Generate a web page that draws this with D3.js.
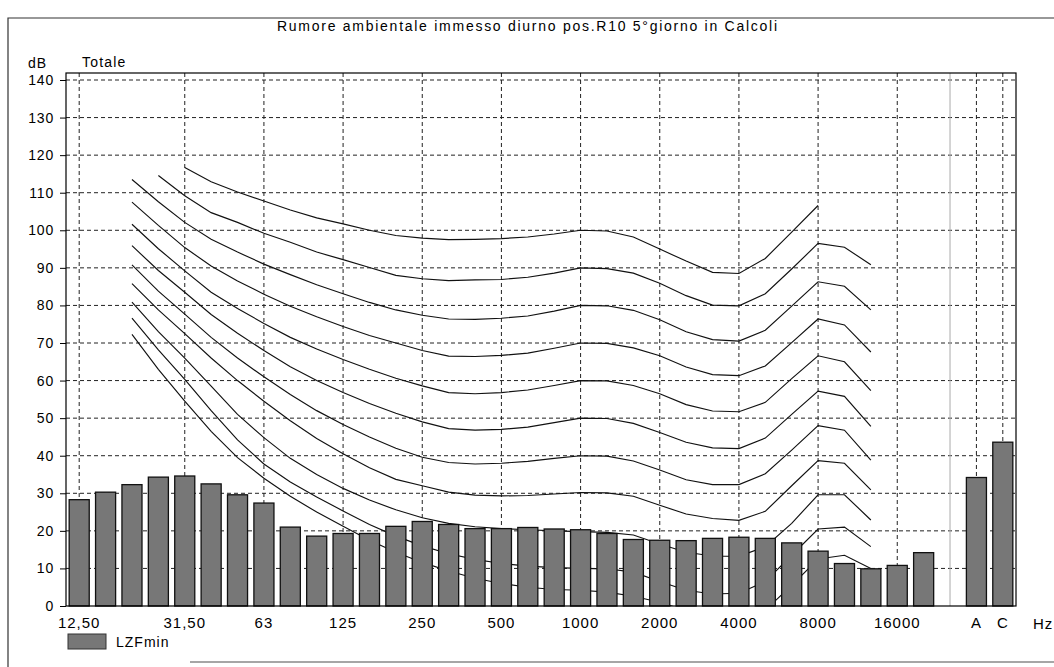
<!DOCTYPE html>
<html><head><meta charset="utf-8">
<script src="https://cdn.jsdelivr.net/npm/d3@7"></script>
<style>html,body{margin:0;padding:0;background:#fff;} svg{display:block;font-family:"Liberation Sans",Arial,sans-serif;}</style>
</head><body><svg id="c" width="1054" height="667"></svg>
<script>
// ---------- data ----------
const bands = ["12.5","16","20","25","31.5","40","50","63","80","100","125","160","200","250","315","400","500","630","800","1000","1250","1600","2000","2500","3150","4000","5000","6300","8000","10000","12500","16000","20000"];
const totals = ["A","C"];
const lzfMin = [28.3,30.3,32.3,34.3,34.6,32.5,29.6,27.4,21.0,18.6,19.3,19.3,21.2,22.5,21.7,20.6,20.6,20.9,20.5,20.3,19.3,17.7,17.5,17.4,18.0,18.3,18.0,16.8,14.6,11.3,9.9,10.8,14.2];
const lzfTotals = [34.2,43.6];

const tickBands = ["12.5","31.5","63","125","250","500","1000","2000","4000","8000","16000","A","C"];
const tickText = ["12,50","31,50","63","125","250","500","1000","2000","4000","8000","16000","A","C"];
const yTicks = [0,10,20,30,40,50,60,70,80,90,100,110,120,130,140];

// equal-loudness contours (20 Hz ... 12500 Hz)
const contourBands = ["20","25","31.5","40","50","63","80","100","125","160","200","250","315","400","500","630","800","1000","1250","1600","2000","2500","3150","4000","5000","6300","8000","10000","12500"];
const phon100 = [null,null,116.7,112.9,110.2,107.8,105.4,103.3,101.7,100.0,98.6,97.9,97.5,97.6,97.8,98.2,99.0,100.0,99.8,98.2,95.0,91.8,88.8,88.5,92.5,99.5,106.6,null,null];
const phon90 = [null,114.6,109.2,104.7,102.1,99.2,96.8,94.2,92.2,90.1,88.0,87.1,86.6,86.8,86.9,87.5,88.6,90.0,89.8,88.6,85.9,82.6,80.1,79.9,83.1,89.7,96.5,95.5,90.8];
const phon80 = [113.5,107.6,102.1,97.6,94.2,91.0,88.2,85.5,83.1,80.8,78.8,77.4,76.4,76.3,76.6,77.2,78.5,80.0,79.9,78.7,76.2,73.0,70.9,70.5,73.4,79.8,86.3,85.1,78.8];
const phon70 = [107.5,101.3,95.4,90.5,86.5,83.0,79.8,77.0,74.4,72.0,70.0,68.0,66.5,66.4,66.7,67.3,68.6,70.0,69.9,68.7,66.6,63.6,61.6,61.3,63.9,70.1,76.4,74.8,67.6];
const phon60 = [101.6,95.1,89.2,83.5,79.2,75.2,71.5,68.4,65.6,63.0,60.6,58.6,56.8,56.5,56.8,57.5,58.7,60.0,59.9,58.7,56.5,53.6,51.9,51.7,54.2,60.5,66.6,65.0,57.3];
const phon50 = [95.9,89.3,83.5,77.6,72.6,68.0,63.7,60.0,56.8,53.9,51.3,49.0,47.2,46.8,47.0,47.6,48.8,50.0,49.9,48.6,46.2,43.6,42.1,41.9,44.7,51.0,57.2,55.8,47.8];
const phon40 = [90.8,83.8,77.7,71.5,66.0,61.0,56.3,52.0,48.3,45.0,42.0,39.6,38.2,37.8,38.0,38.5,39.3,40.0,39.9,38.6,36.2,33.6,32.3,32.3,35.2,41.5,48.0,46.8,38.8];
const phon30 = [85.8,78.8,72.5,66.0,60.0,54.5,49.3,44.6,40.5,36.8,33.7,32.0,30.3,29.5,29.3,29.4,29.8,30.2,30.1,29.2,26.8,24.5,23.3,22.8,25.2,32.0,38.7,38.0,30.9];
const phon20 = [80.9,73.0,66.0,58.5,51.0,44.8,39.3,35.0,31.3,28.2,25.6,23.5,22.0,21.1,20.6,20.3,20.0,19.8,19.6,18.9,16.5,14.3,13.3,13.2,15.8,22.0,29.6,29.6,22.9];
const phon10 = [76.6,68.2,60.3,52.0,44.2,37.8,33.0,29.0,25.3,21.7,18.6,16.0,13.9,12.4,11.3,10.6,10.2,10.0,9.9,9.0,6.5,4.2,3.2,3.4,6.5,13.5,20.5,21.0,15.8];
const threshold = [72.3,63.0,54.5,46.5,39.5,34.0,29.2,25.0,21.2,17.5,14.3,11.6,9.3,7.4,6.0,5.0,4.4,4.2,3.7,2.6,1.0,-1.2,-3.6,-3.9,-1.1,5.5,12.5,13.5,10.0];
const contours = [phon100,phon90,phon80,phon70,phon60,phon50,phon40,phon30,phon20,phon10,threshold];

// ---------- layout ----------
const svg = d3.select("#c");
const L = 66, R = 1016, T = 73, B = 606;
const slots = bands.concat(["gap"], totals);
const x = d3.scaleBand().domain(slots).range([L, R]).paddingInner(0.24).paddingOuter(0.12);
const cx = k => x(k) + x.bandwidth() / 2;
const y = d3.scaleLinear().domain([0, 140]).range([B, 80]);
const FONT = 14;

svg.append("defs").append("clipPath").attr("id", "clip")
  .append("rect").attr("x", L).attr("y", T).attr("width", R - L).attr("height", B - T);

// outer page frame
svg.append("path").attr("d", "M8,667V18H1054").attr("fill", "none").attr("stroke", "#333").attr("stroke-width", 1.2);
svg.append("line").attr("x1", 190).attr("x2", 1054).attr("y1", 662).attr("y2", 662).attr("stroke", "#888").attr("stroke-width", 1.5);

// title
svg.append("text").attr("x", 527).attr("y", 31).attr("text-anchor", "middle")
  .attr("font-size", FONT).attr("textLength", 500).attr("lengthAdjust", "spacing")
  .text("Rumore ambientale immesso diurno pos.R10 5°giorno in Calcoli");

// horizontal grid
svg.append("g").selectAll("line").data(yTicks.filter(v => v > 0)).join("line")
  .attr("x1", L).attr("x2", R).attr("y1", d => y(d)).attr("y2", d => y(d))
  .attr("stroke", "#222").attr("stroke-width", 1).attr("stroke-dasharray", "4,3");

// vertical grid
svg.append("g").selectAll("line").data(tickBands).join("line")
  .attr("x1", d => cx(d)).attr("x2", d => cx(d)).attr("y1", T).attr("y2", B)
  .attr("stroke", "#222").attr("stroke-width", 1).attr("stroke-dasharray", "4,3");
svg.append("line").attr("x1", cx("gap")).attr("x2", cx("gap")).attr("y1", T).attr("y2", B)
  .attr("stroke", "#aaa").attr("stroke-width", 1);

// contours
const line = d3.line().defined(d => d[1] != null).x(d => cx(d[0])).y(d => y(d[1]));
svg.append("g").attr("clip-path", "url(#clip)").selectAll("path").data(contours).join("path")
  .attr("d", c => line(contourBands.map((b, i) => [b, c[i]])))
  .attr("fill", "none").attr("stroke", "#111").attr("stroke-width", 1.15);

// bars
const barData = bands.map((b, i) => ({k: b, v: lzfMin[i]})).concat(totals.map((b, i) => ({k: b, v: lzfTotals[i]})));
svg.append("g").selectAll("rect").data(barData).join("rect")
  .attr("x", d => x(d.k)).attr("y", d => y(d.v)).attr("width", x.bandwidth()).attr("height", d => B - y(d.v))
  .attr("fill", "#777").attr("stroke", "#111").attr("stroke-width", 1.3);

// plot frame
svg.append("rect").attr("x", L).attr("y", T).attr("width", R - L).attr("height", B - T)
  .attr("fill", "none").attr("stroke", "#000").attr("stroke-width", 1.2);

// y axis
const gy = svg.append("g").attr("transform", `translate(${L},0)`)
  .call(d3.axisLeft(y).tickValues(yTicks).tickSize(6).tickPadding(6));
gy.select(".domain").remove();
gy.attr("font-size", FONT).attr("font-family", null);
gy.selectAll("text").attr("fill", "#000").attr("letter-spacing", 0.8);
gy.selectAll("line").attr("stroke", "#000");

// x axis labels
const gx = svg.append("g").attr("transform", `translate(0,${B})`)
  .call(d3.axisBottom(x).tickValues(tickBands).tickFormat((d, i) => tickText[i]).tickSize(0).tickPadding(11));
gx.select(".domain").remove();
gx.attr("font-size", 15).attr("font-family", null);
gx.selectAll("text").attr("fill", "#000").attr("letter-spacing", 1);

// unit labels
svg.append("text").attr("x", 1033).attr("y", 629).attr("font-size", 15).attr("letter-spacing", 1).text("Hz");
svg.append("text").attr("x", 28).attr("y", 68).attr("font-size", FONT).attr("letter-spacing", 1).text("dB");
svg.append("text").attr("x", 82).attr("y", 67).attr("font-size", FONT).attr("letter-spacing", 1.2).text("Totale");

// legend
svg.append("rect").attr("x", 68).attr("y", 634).attr("width", 38).attr("height", 15)
  .attr("fill", "#777").attr("stroke", "#333").attr("stroke-width", 1);
svg.append("text").attr("x", 116).attr("y", 647).attr("font-size", FONT).attr("letter-spacing", 1).text("LZFmin");
</script></body></html>
